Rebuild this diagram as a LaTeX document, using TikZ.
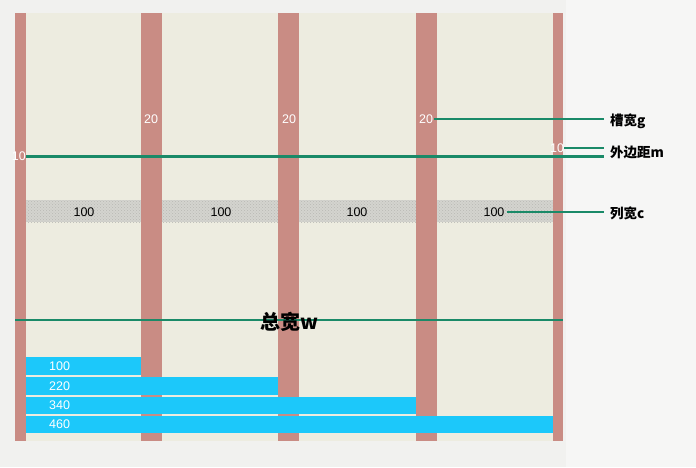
\documentclass[tikz,border=0pt]{standalone}
\usepackage{fontspec}
\setmainfont{Liberation Sans}
\newfontfamily\cjk{Noto Sans CJK SC}
\usetikzlibrary{patterns}
\definecolor{bgc}{HTML}{F1F1EF}
\definecolor{rightc}{HTML}{F6F6F5}
\definecolor{cream}{HTML}{EDECE0}
\definecolor{barc}{HTML}{C98C84}
\definecolor{greenc}{HTML}{1A8A68}
\definecolor{hatchc}{HTML}{D4D4CF}
\definecolor{hatchdot}{HTML}{B8B8B3}
\definecolor{bluec}{HTML}{1CC8FA}
\tikzset{
  numw/.style={inner sep=0pt, text=white, font=\fontsize{12.5}{12.5}\selectfont},
  numb/.style={inner sep=0pt, text=black, font=\fontsize{12.5}{12.5}\selectfont},
  lab/.style={inner sep=0pt, anchor=west, text=black, font=\cjk\bfseries\fontsize{13.5}{13.5}\selectfont},
  gl/.style={draw=greenc, line width=2.2pt},
  barfill/.style={fill=barc},
  bluebar/.style={fill=bluec},
  hatchstrip/.style={fill=hatchc, postaction={pattern=crosshatch dots, pattern color=hatchdot}}
}
\begin{document}
\begin{tikzpicture}[x=1pt,y=-1pt]
\useasboundingbox (0,0) rectangle (696,467);
\fill[bgc] (0,0) rectangle (696,467);
\fill[rightc] (566,0) rectangle (696,467);
\fill[cream] (15,13) rectangle (563,441);
% column-width strips
\foreach \a/\b in {26/141,162/278,299/416,437/553}
  \path[hatchstrip] (\a,200) rectangle (\b,222);
% margin and gutter bars
\fill[barfill] (15,13) rectangle (26,441);
\fill[barfill] (141,13) rectangle (162,441);
\fill[barfill] (278,13) rectangle (299,441);
\fill[barfill] (416,13) rectangle (437,441);
\fill[barfill] (553,13) rectangle (563,441);
% labels on bars
\node[numw] (g1) at (151,119) {20};
\node[numw] (g2) at (289,119) {20};
\node[numw] (g3) at (426,119) {20};
\node[numw, anchor=east] (mL) at (26,156) {10};
\node[numw, anchor=west] (mR) at (550,148) {10};
% column widths
\node[numb] (c1) at (84,212) {100};
\node[numb] (c2) at (221,212) {100};
\node[numb] (c3) at (357,212) {100};
\node[numb] (c4) at (494,212) {100};
% legend labels
\node[lab] (Lg) at (610,121) {槽宽g};
\node[lab] (Lm) at (610,152.5) {外边距m};
\node[lab] (Lc) at (610,213) {列宽c};
\coordinate (eg) at (604,119);
\coordinate (em1) at (604,148);
\coordinate (em2) at (604,156.5);
\coordinate (ec) at (604,212);
\coordinate (sm) at (26,156.5);
\draw[gl] ([xshift=1pt]g3.east) -- (eg);
\draw[gl] (mR.east) -- (em1);
\draw[gl] (sm) -- (em2);
\draw[gl] ([xshift=2pt]c4.east) -- (ec);
% total width
\coordinate (tw1) at (15,320);
\coordinate (tw2) at (563,320);
\draw[gl] (tw1) -- (tw2);
\node[inner sep=0pt, font=\cjk\bfseries\fontsize{20}{20}\selectfont] (tw) at (289,322) {总宽w};
% cumulative widths
\fill[bluebar] (26,357) rectangle (141,375);
\fill[bluebar] (26,377) rectangle (278,395);
\fill[bluebar] (26,397) rectangle (416,414);
\fill[bluebar] (26,416) rectangle (553,433);
\node[numw, anchor=west] (s1) at (49,366.5) {100};
\node[numw, anchor=west] (s2) at (49,386) {220};
\node[numw, anchor=west] (s3) at (49,405.5) {340};
\node[numw, anchor=west] (s4) at (49,424.5) {460};
\end{tikzpicture}
\end{document}
